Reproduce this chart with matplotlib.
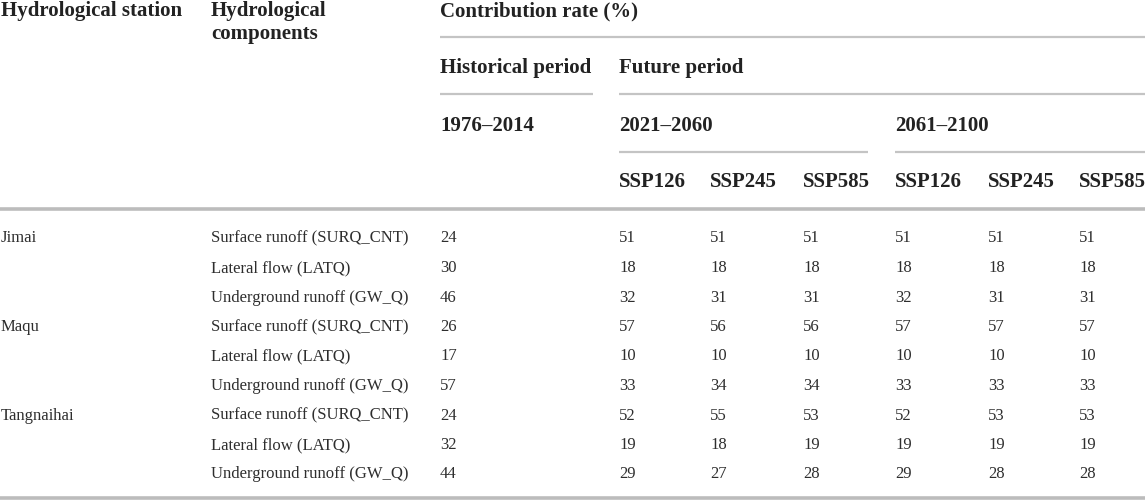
import matplotlib
matplotlib.use("Agg")
import matplotlib.pyplot as plt

stations = ["Jimai", "Maqu", "Tangnaihai"]
components = ["Surface runoff (SURQ_CNT)", "Lateral flow (LATQ)", "Underground runoff (GW_Q)"]
historical = [24, 30, 46, 26, 17, 57, 24, 32, 44]
f2060_ssp126 = [51, 18, 32, 57, 10, 33, 52, 19, 29]
f2060_ssp245 = [51, 18, 31, 56, 10, 34, 55, 18, 27]
f2060_ssp585 = [51, 18, 31, 56, 10, 34, 53, 19, 28]
f2100_ssp126 = [51, 18, 32, 57, 10, 33, 52, 19, 29]
f2100_ssp245 = [51, 18, 31, 57, 10, 33, 53, 19, 28]
f2100_ssp585 = [51, 18, 31, 57, 10, 33, 53, 19, 28]
scenarios = ["SSP126", "SSP245", "SSP585"]

W, H = 1145, 500
fig = plt.figure(figsize=(W / 100, H / 100), dpi=100)
ax = fig.add_axes([0, 0, 1, 1])
ax.set_xlim(0, W)
ax.set_ylim(H, 0)
ax.axis("off")

FONT = "Liberation Serif"
HC = "#222222"
BC = "#2e2e2e"
HS = 15
BS = 12

def htext(x, y, s):
    ax.text(x, y, s, fontfamily=FONT, fontweight="bold", fontsize=HS, color=HC, va="baseline", ha="left")

def btext(x, y, s):
    ax.text(x, y, s, fontfamily=FONT, fontsize=BS, color=BC, va="baseline", ha="left")

col_station = 1
col_comp = 211
col_hist = 440
cols_future = [619, 710, 803, 895, 988, 1079]

# header
htext(col_station, 16, "Hydrological station")
htext(col_comp, 16, "Hydrological")
htext(col_comp, 39.5, "components")
htext(col_hist, 16, "Contribution rate (%)")
htext(col_hist, 73, "Historical period")
htext(cols_future[0], 73, "Future period")
htext(col_hist, 131, "1976\u20132014")
htext(cols_future[0], 131, "2021\u20132060")
htext(cols_future[3], 131, "2061\u20132100")
for i, sc in enumerate(scenarios * 2):
    htext(cols_future[i], 187, sc)

thin = dict(color="#c4c4c4", linewidth=1.6, solid_capstyle="butt")
thick = dict(color="#bcbcbc", linewidth=2.6, solid_capstyle="butt")
ax.plot([col_hist, W], [37, 37], **thin)
ax.plot([col_hist, 593], [94, 94], **thin)
ax.plot([619, W], [94, 94], **thin)
ax.plot([619, 868], [152, 152], **thin)
ax.plot([895, W], [152, 152], **thin)
ax.plot([0, W], [209, 209], **thick)
ax.plot([0, W], [498, 498], **thick)

# body
series = [historical, f2060_ssp126, f2060_ssp245, f2060_ssp585,
          f2100_ssp126, f2100_ssp245, f2100_ssp585]
xs = [col_hist] + cols_future
y0, dy = 242.5, 29.5
for r in range(9):
    y = y0 + r * dy
    if r % 3 == 0:
        btext(col_station, y, stations[r // 3])
    btext(col_comp, y, components[r % 3])
    for x, s in zip(xs, series):
        btext(x, y, str(s[r]))

fig.savefig("out.png", dpi=100, facecolor="white")
